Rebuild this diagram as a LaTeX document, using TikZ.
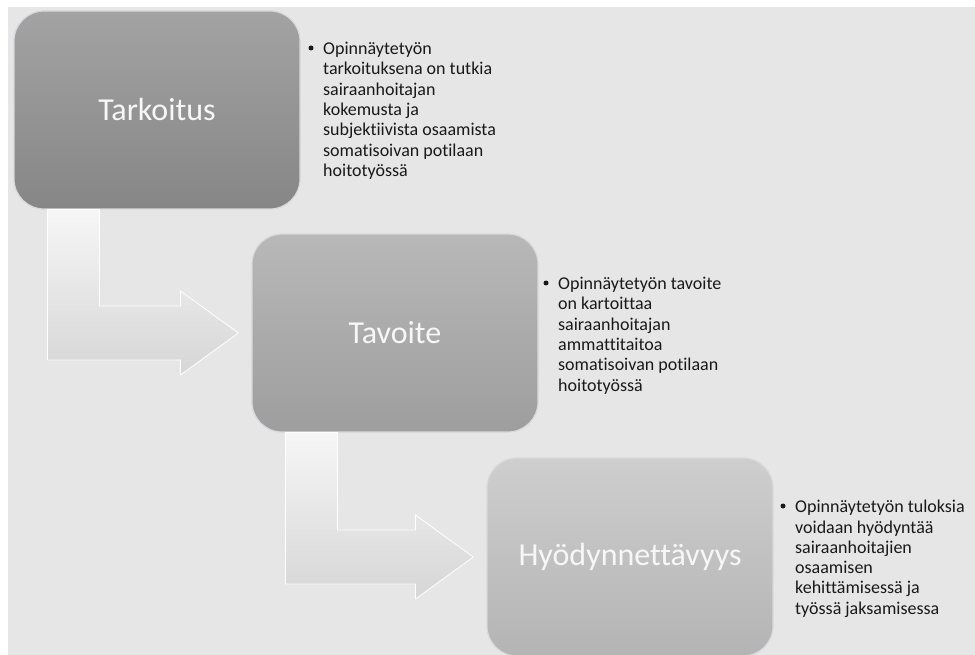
\documentclass[tikz,border=0pt]{standalone}
\usepackage{fontspec}
\setmainfont{Carlito}[Ligatures={NoCommon}]
\usetikzlibrary{calc}

\begin{document}
\begin{tikzpicture}[x=1pt,y=-1pt]
% Define grey tones
\definecolor{backg}{RGB}{230,230,230}
\definecolor{stage1top}{RGB}{163,163,163}
\definecolor{stage1bot}{RGB}{134,134,134}
\definecolor{stage2top}{RGB}{184,184,184}
\definecolor{stage2bot}{RGB}{158,158,158}
\definecolor{stage3top}{RGB}{206,206,206}
\definecolor{stage3bot}{RGB}{180,180,180}
\definecolor{arrowtop}{RGB}{246,246,246}
\definecolor{arrowbot}{RGB}{214,214,214}
\definecolor{bevel}{RGB}{214,218,222}
\tikzset{
  stage/.style={rounded corners=30pt, minimum width=286pt, minimum height=198pt,
    inner sep=0pt, draw=bevel, line width=1.2pt, text=white!97!black,
    font=\fontsize{32}{38}\selectfont},
  goal/.style={align=left, anchor=north west, inner sep=0pt,
    text=black!90, font=\fontsize{18}{20.3}\selectfont},
  dotmark/.style={circle, fill=black!90, inner sep=0pt, minimum size=5pt},
  bentarrow/.style={top color=arrowtop, bottom color=arrowbot, draw=white, line width=0.8pt}
}

\useasboundingbox (0,0) rectangle (975,655);
\fill[backg] (8,7) rectangle (975,655);

% Draw the stages
\node[stage, top color=stage1top, bottom color=stage1bot] (tarkoitus) at (157,110) {Tarkoitus};
\node[stage, top color=stage2top, bottom color=stage2bot] (tavoite) at (395,333) {Tavoite};
\node[stage, top color=stage3top, bottom color=stage3bot] (hyoty) at (630,557) {Hyödynnettävyys};

% Draw bent arrows
\foreach \a/\b in {tarkoitus/tavoite, tavoite/hyoty}
  \path[bentarrow] let \p1=(\a.south west), \p2=(\b.west) in
    (\x1+34pt,\y1) -- (\x1+86pt,\y1) -- (\x1+86pt,\y2+27pt) -- (\x2-71pt,\y2+27pt)
    -- (\x2-71pt,\y2+42pt) -- (\x2-13pt,\y2) -- (\x2-71pt,\y2-42pt)
    -- (\x2-71pt,\y2-27pt) -- (\x1+34pt,\y2-27pt) -- cycle;

% Add descriptions
\node[goal] (desc1) at (323,42) {Opinnäytetyön\\tarkoituksena on tutkia\\sairaanhoitajan\\kokemusta ja\\subjektiivista osaamista\\somatisoivan potilaan\\hoitotyössä};
\node[goal] (desc2) at (558,277) {Opinnäytetyön tavoite\\on kartoittaa\\sairaanhoitajan\\ammattitaitoa\\somatisoivan potilaan\\hoitotyössä};
\node[goal] (desc3) at (795,500) {Opinnäytetyön tuloksia\\voidaan hyödyntää\\sairaanhoitajien\\osaamisen\\kehittämisessä ja\\työssä jaksamisessa};

% Add bullets
\foreach \d in {desc1, desc2, desc3}
  \node[dotmark] at ($(\d.north west)+(-12,6)$) {};
\end{tikzpicture}
\end{document}
